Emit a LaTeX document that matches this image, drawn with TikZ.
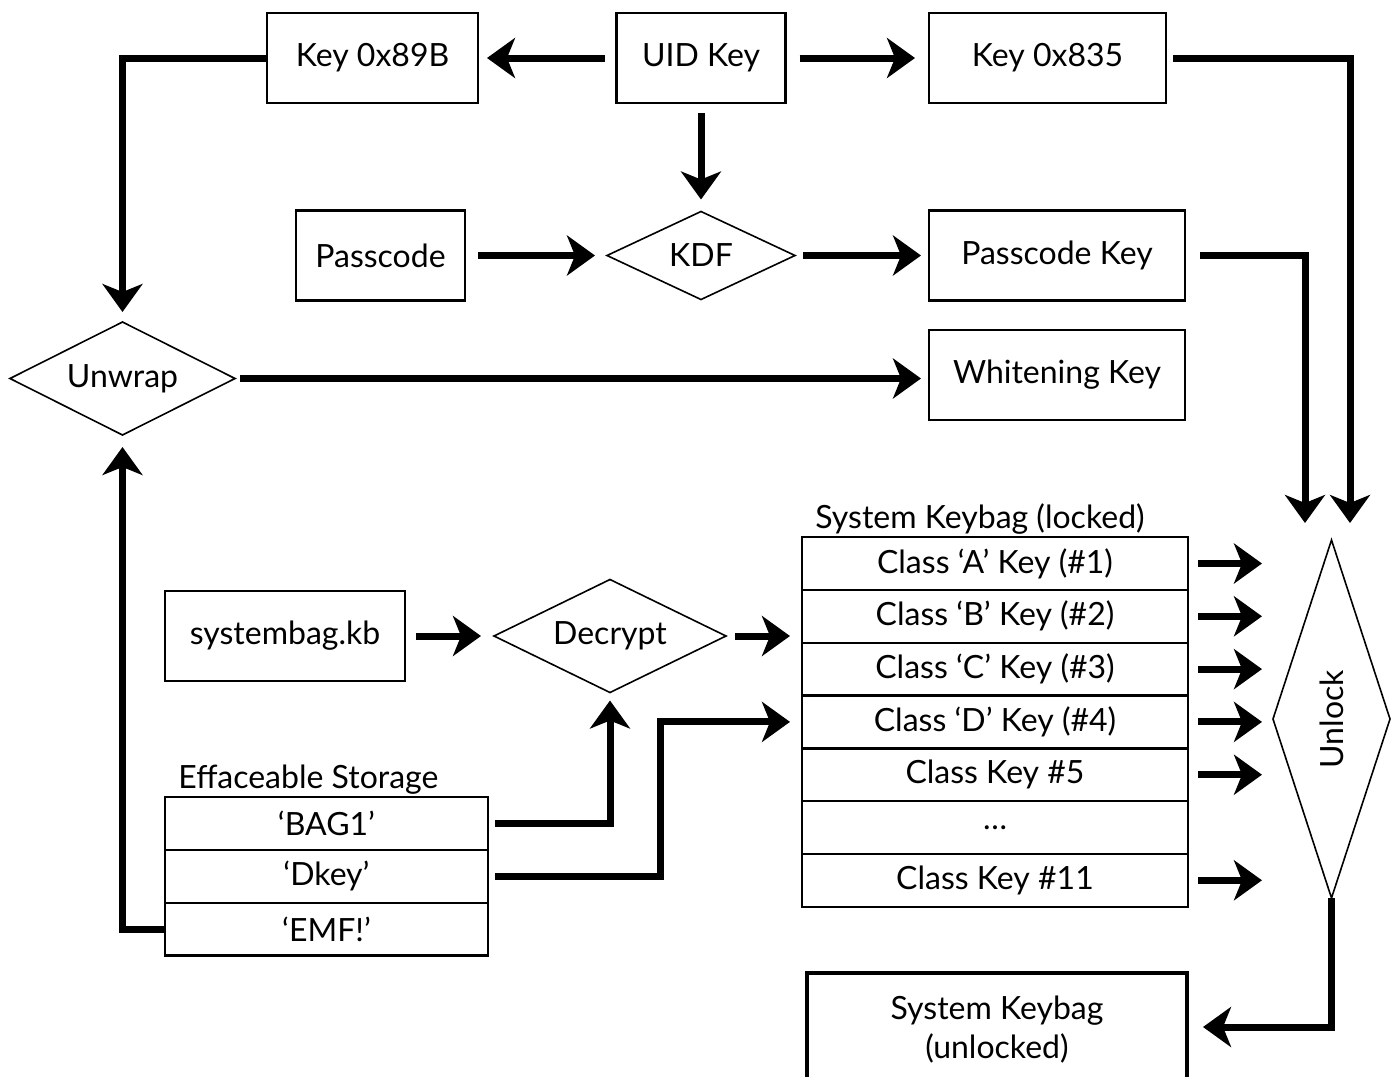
\documentclass[tikz,border=0pt]{standalone}
\usepackage{fontspec}
\setmainfont{Lato}
\usepackage{tikz}
\usetikzlibrary{arrows.meta,positioning,shapes.geometric}

\begin{document}
\begin{tikzpicture}[x=0.5pt, y=-0.5pt, every node/.style={font=\fontsize{16}{19.5}\selectfont}]
\tikzset{box/.style={draw, line width=1.2pt, minimum height=45pt, inner sep=0pt, outer sep=0pt}}
\tikzset{row/.style={draw, line width=1.2pt, minimum height=26.4pt, inner sep=0pt, outer sep=0pt}}
\tikzset{dia/.style={draw, diamond, line width=0.8pt, inner sep=0pt, outer sep=0pt}}
\tikzset{arr/.style={line width=3.5pt, -{Stealth[length=14pt,width=20pt,inset=4pt]}}}
\useasboundingbox (0,0) rectangle (1394,1077);
% top row
\node[box, minimum width=105.5pt] (k89b) at (372.5,58) {Key 0x89B};
\node[box, minimum width=84.5pt] (uid) at (701,58) {UID Key};
\node[box, minimum width=118.5pt] (k835) at (1047.5,58) {Key 0x835};
% passcode row
\node[box, minimum width=84.5pt] (pc) at (380.5,255.5) {Passcode};
\node[dia, minimum width=94pt, minimum height=44pt, aspect=2] (kdf) at (701,255.5) {KDF};
\node[box, minimum width=128pt] (pck) at (1057,255.5) {Passcode Key};
\node[dia, minimum width=112.5pt, minimum height=56.5pt, aspect=2] (unw) at (122.5,378.5) {Unwrap};
\node[box, minimum width=128pt] (wk) at (1057,375) {Whitening Key};
% keybag file
\node[box, minimum width=120pt] (sbk) at (285,636) {systembag.kb};
\node[dia, minimum width=116pt, minimum height=56.5pt, aspect=2] (dec) at (610,636) {Decrypt};
% effaceable storage
\node[row, minimum width=161.5pt] (bag) at (326.5,823.5) {‘BAG1’};
\node[row, minimum width=161.5pt, below=0pt of bag] (dk) {‘Dkey’};
\node[row, minimum width=161.5pt, below=0pt of dk] (emf) {‘EMF!’};
\node[anchor=south west, inner sep=0pt] (esl) at ([xshift=6.5pt,yshift=1pt]bag.north west) {Effaceable Storage};
% locked keybag
\node[row, minimum width=193pt] (ca) at (995,563.5) {Class ‘A’ Key (\#1)};
\node[row, minimum width=193pt, below=0pt of ca] (cb) {Class ‘B’ Key (\#2)};
\node[row, minimum width=193pt, below=0pt of cb] (cc) {Class ‘C’ Key (\#3)};
\node[row, minimum width=193pt, below=0pt of cc] (cd) {Class ‘D’ Key (\#4)};
\node[row, minimum width=193pt, below=0pt of cd] (c5) {Class Key \#5};
\node[row, minimum width=193pt, below=0pt of c5] (cx) {\dots};
\node[row, minimum width=193pt, below=0pt of cx] (c11) {Class Key \#11};
\node[anchor=south west, inner sep=0pt] (kbl) at ([xshift=6.5pt,yshift=1pt]ca.north west) {System Keybag (locked)};
\node[dia, minimum width=58.5pt, minimum height=179pt, aspect=0.33] (ul) at (1331.5,719) {\rotatebox{90}{Unlock}};
\node[box, line width=2pt, minimum width=190pt, minimum height=57pt, align=center] (ukb) at (997,1030) {System Keybag\\(unlocked)};
\coordinate (in1) at (1305,523);
\coordinate (in2) at (1350,523);
% connectors
\draw[arr, shorten <=6pt, shorten >=4.5pt] (uid) -- (k89b);
\draw[arr, shorten <=7pt, shorten >=7pt] (uid) -- (k835);
\draw[arr, shorten <=5pt, shorten >=6pt] (uid) -- (kdf);
\draw[arr, shorten <=6.5pt, shorten >=6pt] (pc) -- (kdf);
\draw[arr, shorten <=4pt, shorten >=4pt] (kdf) -- (pck);
\draw[arr, shorten >=5pt] (k89b) -| (unw);
\draw[arr, shorten <=3.5pt] (k835) -| (in2);
\draw[arr, shorten <=7.5pt] (pck) -| (in1);
\draw[arr, shorten <=2.5pt, shorten >=4pt] (unw.east) -- (unw.east -| wk.west);
\draw[arr, shorten >=6pt] (emf) -| (unw);
\draw[arr, shorten <=5.5pt, shorten >=6.5pt] (sbk) -- (dec);
\draw[arr, shorten <=4.5pt, shorten >=6pt] (dec.east) -- (dec.east -| cb.west);
\draw[arr, shorten <=3.5pt, shorten >=4pt] (bag) -| (dec);
\draw[arr, shorten <=3.5pt, shorten >=6pt] (dk.east) -- ++(172,0) |- (cd.west);
\draw[arr, shorten <=5pt] (ca.east) -- ++(74,0);
\draw[arr, shorten <=5pt] (cb.east) -- ++(74,0);
\draw[arr, shorten <=5pt] (cc.east) -- ++(74,0);
\draw[arr, shorten <=5pt] (cd.east) -- ++(74,0);
\draw[arr, shorten <=5pt] (c5.east) -- ++(74,0);
\draw[arr, shorten <=5pt] (c11.east) -- ++(74,0);
\draw[arr, shorten >=8pt] (ul.south) |- ([yshift=1.5pt]ukb.east);
\end{tikzpicture}
\end{document}
